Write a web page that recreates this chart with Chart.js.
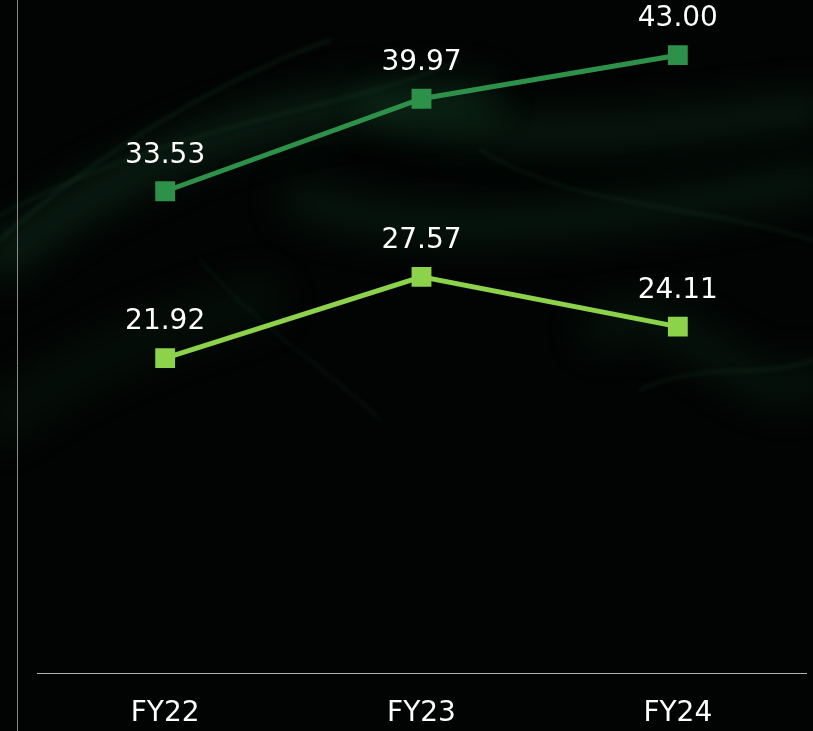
<!DOCTYPE html>
<html>
<head>
<meta charset="utf-8">
<script src="https://cdn.jsdelivr.net/npm/chart.js@4"></script>
<style>
  html, body { margin: 0; padding: 0; background: #020403; }
  #wrap { width: 813px; height: 731px; position: relative; }
</style>
</head>
<body>
<div id="wrap"><canvas id="fy-chart" width="813" height="731"></canvas></div>
<script>
var years = ["FY22", "FY23", "FY24"];
var upperSeries = [33.53, 39.97, 43.00];
var lowerSeries = [21.92, 27.57, 24.11];

// dark smoky backdrop + left divider line
var backdrop = {
  id: "backdrop",
  beforeDraw: function(chart) {
    var ctx = chart.ctx;
    var W = chart.width, H = chart.height;
    ctx.save();
    ctx.fillStyle = "#020403";
    ctx.fillRect(0, 0, W, H);
    ctx.lineCap = "round";
    // broad soft bands
    ctx.filter = "blur(18px)";
    var bands = [
      { c: "rgba(30,100,60,0.26)", w: 40, p: [0, 260, 140, 150, 300, 90, 480, 100] },
      { c: "rgba(30,100,60,0.22)", w: 36, p: [380, 110, 520, 150, 650, 130, 813, 110] },
      { c: "rgba(30,95,60,0.20)", w: 40, p: [300, 200, 430, 240, 560, 230, 813, 180] },
      { c: "rgba(28,90,55,0.18)", w: 40, p: [600, 330, 680, 280, 740, 420, 813, 380] },
      { c: "rgba(25,75,45,0.14)", w: 50, p: [0, 420, 80, 360, 160, 330, 260, 300] }
    ];
    bands.forEach(function(s) {
      ctx.strokeStyle = s.c;
      ctx.lineWidth = s.w;
      ctx.beginPath();
      ctx.moveTo(s.p[0], s.p[1]);
      ctx.bezierCurveTo(s.p[2], s.p[3], s.p[4], s.p[5], s.p[6], s.p[7]);
      ctx.stroke();
    });
    // thin wisps
    ctx.filter = "blur(2px)";
    var wisps = [
      { c: "rgba(60,130,90,0.18)", w: 3, p: [0, 240, 100, 150, 220, 80, 330, 40] },
      { c: "rgba(60,130,90,0.15)", w: 3, p: [0, 215, 180, 120, 350, 110, 460, 60] },
      { c: "rgba(60,130,90,0.14)", w: 3, p: [480, 150, 580, 210, 680, 200, 813, 240] },
      { c: "rgba(60,130,90,0.14)", w: 3, p: [640, 390, 700, 360, 760, 380, 813, 360] },
      { c: "rgba(50,110,80,0.12)", w: 3, p: [200, 260, 260, 330, 330, 370, 380, 420] }
    ];
    wisps.forEach(function(s) {
      ctx.strokeStyle = s.c;
      ctx.lineWidth = s.w;
      ctx.beginPath();
      ctx.moveTo(s.p[0], s.p[1]);
      ctx.bezierCurveTo(s.p[2], s.p[3], s.p[4], s.p[5], s.p[6], s.p[7]);
      ctx.stroke();
    });
    ctx.filter = "none";
    ctx.strokeStyle = "#8a8a8a";
    ctx.lineWidth = 1;
    ctx.beginPath();
    ctx.moveTo(17.5, 0);
    ctx.lineTo(17.5, H);
    ctx.stroke();
    ctx.restore();
  }
};

// value labels above each point
var valueLabels = {
  id: "valueLabels",
  afterDatasetsDraw: function(chart) {
    var ctx = chart.ctx;
    ctx.save();
    ctx.fillStyle = "#ffffff";
    ctx.font = "28px 'DejaVu Sans'";
    ctx.textAlign = "center";
    ctx.textBaseline = "middle";
    chart.data.datasets.forEach(function(ds, i) {
      chart.getDatasetMeta(i).data.forEach(function(pt, j) {
        ctx.fillText(ds.data[j].toFixed(2), pt.x, pt.y - 36);
      });
    });
    ctx.restore();
  }
};

new Chart(document.getElementById("fy-chart"), {
  type: "line",
  data: {
    labels: years,
    datasets: [
      {
        data: upperSeries,
        borderColor: "#2d914a",
        backgroundColor: "#2d914a",
        borderWidth: 5,
        pointStyle: "rect",
        pointRadius: 10.5,
        pointHoverRadius: 10.5,
        tension: 0,
        fill: false
      },
      {
        data: lowerSeries,
        borderColor: "#8cd24b",
        backgroundColor: "#8cd24b",
        borderWidth: 5,
        pointStyle: "rect",
        pointRadius: 10.5,
        pointHoverRadius: 10.5,
        tension: 0,
        fill: false
      }
    ]
  },
  options: {
    responsive: false,
    animation: false,
    clip: false,
    layout: { autoPadding: false, padding: { left: 37, right: 7, top: 0, bottom: 0 } },
    plugins: {
      legend: { display: false },
      tooltip: { enabled: false }
    },
    scales: {
      x: {
        offset: true,
        grid: { display: false, drawTicks: false },
        border: { display: true, color: "#b0b0b0", width: 1 },
        ticks: {
          color: "#ffffff",
          font: { family: "'DejaVu Sans'", size: 28 },
          padding: 24
        },
        afterFit: function(scale) { scale.height = 58; }
      },
      y: {
        display: false,
        min: 0,
        max: 46.84
      }
    }
  },
  plugins: [backdrop, valueLabels]
});
</script>
</body>
</html>
